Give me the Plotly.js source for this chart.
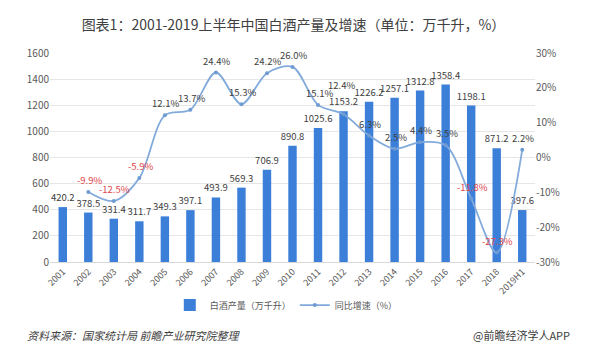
<!DOCTYPE html>
<html><head><meta charset="utf-8">
<script src="https://cdn.plot.ly/plotly-3.0.1.min.js"></script>
<style>html,body{margin:0;padding:0;background:#fff;}#chart{width:602px;height:350px;}</style>
</head><body><div id="chart"></div>
<script>
const categories = ["2001","2002","2003","2004","2005","2006","2007","2008","2009","2010","2011","2012","2013","2014","2015","2016","2017","2018","2019H1"];
const production = [420.2,378.5,331.4,311.7,349.3,397.1,493.9,569.3,706.9,890.8,1025.6,1153.2,1226.2,1257.1,1312.8,1358.4,1198.1,871.2,397.6];
const growthCats = categories.slice(1);
const growth = [-9.9,-12.5,-5.9,12.1,13.7,24.4,15.3,24.2,26.0,15.1,12.4,6.3,2.5,4.4,3.5,-11.8,-27.3,2.2];
const rightTicks = [-30,-20,-10,0,10,20,30];

const font = "'Noto Sans CJK SC','Noto Sans',sans-serif";
// label placement (style only): vertical lift / horizontal nudge in px per growth label
const labelLift = growthCats.map(c => c === "2012" ? 29 : 12);
const labelNudge = growthCats.map(c => c === "2012" ? -2 : 1);

const bar = {
  type:'bar', x:categories, y:production, name:'白酒产量（万千升）',
  marker:{color:'#3c7fd9'}, text:production.map(v=>v.toFixed(1)),
  textposition:'outside', constraintext:'none', textfont:{size:9.5,color:'#404040',family:font},
  cliponaxis:false, width:0.33
};
const line = {
  type:'scatter', mode:'lines+markers', x:growthCats, y:growth, yaxis:'y2',
  name:'同比增速（%）', line:{color:'#82aadb',width:1.8,shape:'spline',smoothing:0.9},
  marker:{size:4,color:'#6f9bd3'}, cliponaxis:false
};
// on a category axis an annotation's numeric x is the category index
const growthLabels = growth.map((v,i)=>({
  x:categories.indexOf(growthCats[i]), y:v, xref:'x', yref:'y2', text:v.toFixed(1)+'%', showarrow:false,
  yshift:labelLift[i], xshift:labelNudge[i], xanchor:'center', yanchor:'middle',
  font:{size:9.5,family:font,color:v<0?'#e0454a':'#404040'}
}));
const layout = {
  width:602, height:350, margin:{l:50,r:67,t:53,b:88},
  paper_bgcolor:'#fff', plot_bgcolor:'#fff',
  font:{family:font,size:10,color:'#595959'},
  title:{text:'图表1：2001-2019上半年中国白酒产量及增速（单位：万千升，%）',
    font:{size:14,color:'#404040',family:font}, x:0.502, xref:'paper', xanchor:'center', y:0.929, yanchor:'middle'},
  xaxis:{type:'category', tickangle:-45, tickfont:{size:9,color:'#595959'}, showgrid:false,
    linecolor:'#d9d9d9', showline:true, ticks:'', range:[-0.5, categories.length-0.5]},
  yaxis:{range:[0,1600], dtick:200, gridcolor:'#e6e6e6', zeroline:false, tickfont:{size:10,color:'#595959'}, ticks:''},
  yaxis2:{range:[-30,30], overlaying:'y', side:'right', tickvals:rightTicks,
    ticktext:rightTicks.map(v=>v+'%'), showgrid:false, zeroline:false, tickfont:{size:10,color:'#595959'}},
  showlegend:true,
  legend:{orientation:'h', x:0.247, xanchor:'left', y:-0.206, yanchor:'middle', entrywidth:80, itemwidth:30,
    font:{size:9,color:'#595959'}},
  annotations:growthLabels.concat([
    {text:'<i>资料来源：国家统计局 前瞻产业研究院整理</i>', xref:'paper', yref:'paper', x:-0.0515, y:-0.349, xanchor:'left', yanchor:'middle', showarrow:false, font:{size:11,color:'#404040'}},
    {text:'@前瞻经济学人APP', xref:'paper', yref:'paper', x:1.076, y:-0.349, xanchor:'right', yanchor:'middle', showarrow:false, font:{size:11,color:'#404040'}}
  ])
};
Plotly.newPlot('chart',[bar,line],layout,{displayModeBar:false});
</script></body></html>
